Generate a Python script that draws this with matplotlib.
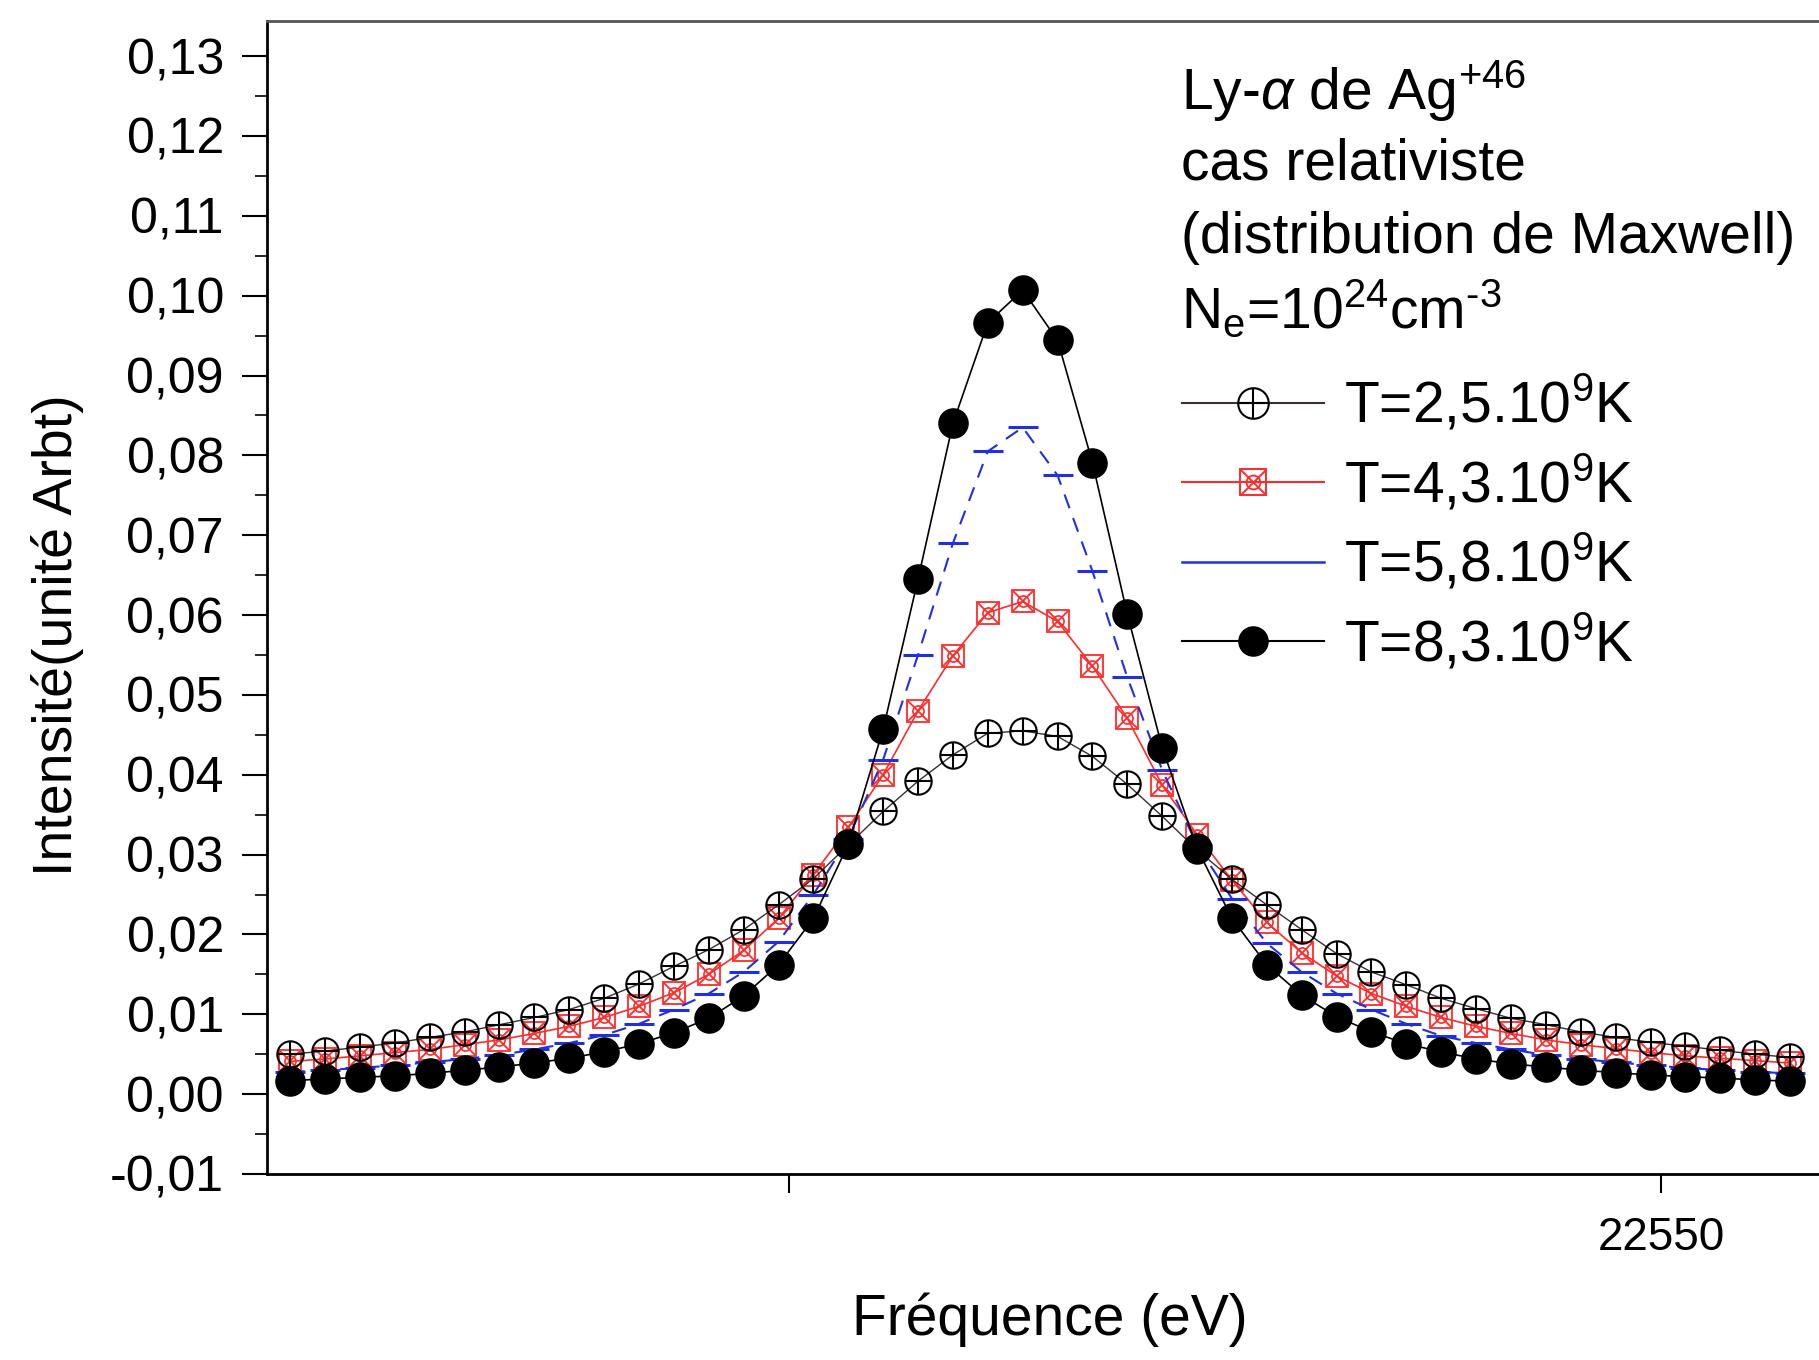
import numpy as np
import matplotlib
matplotlib.use('Agg')
import matplotlib.pyplot as plt
from matplotlib.lines import Line2D
from matplotlib.ticker import MultipleLocator, FuncFormatter, FixedLocator

plt.rcParams['font.family'] = ['Liberation Sans', 'DejaVu Sans']
plt.rcParams['mathtext.fontset'] = 'custom'
plt.rcParams['mathtext.rm'] = 'Liberation Sans'
plt.rcParams['mathtext.it'] = 'Liberation Sans:italic'
plt.rcParams['axes.unicode_minus'] = False

# frequence (eV), pas de 2 eV
freq = [22471.4, 22473.4, 22475.4, 22477.4, 22479.4, 22481.4, 22483.4, 22485.4,
        22487.4, 22489.4, 22491.4, 22493.4, 22495.4, 22497.4, 22499.4, 22501.4,
        22503.4, 22505.4, 22507.4, 22509.4, 22511.4, 22513.4, 22515.4, 22517.4,
        22519.4, 22521.4, 22523.4, 22525.4, 22527.4, 22529.4, 22531.4, 22533.4,
        22535.4, 22537.4, 22539.4, 22541.4, 22543.4, 22545.4, 22547.4, 22549.4,
        22551.4, 22553.4, 22555.4, 22557.4]

# T = 2,5e9 K
i25 = [0.0050, 0.0054, 0.0059, 0.0064, 0.0071, 0.0078, 0.0087, 0.0096, 0.0106, 0.0120,
       0.0138, 0.0160, 0.0181, 0.0206, 0.0237, 0.0270, 0.0312, 0.0354, 0.0392, 0.0425,
       0.0452, 0.0455, 0.0448, 0.0423, 0.0388, 0.0348, 0.0306, 0.0269, 0.0237, 0.0206,
       0.0176, 0.0153, 0.0137, 0.0120, 0.0107, 0.0095, 0.0087, 0.0078, 0.0071, 0.0065,
       0.0060, 0.0055, 0.0050, 0.0046]
# T = 4,3e9 K
i43 = [0.0041, 0.0044, 0.0048, 0.0052, 0.0056, 0.0062, 0.0068, 0.0076, 0.0085, 0.0096,
       0.0110, 0.0127, 0.0150, 0.0180, 0.0220, 0.0275, 0.0334, 0.0400, 0.0480, 0.0549,
       0.0603, 0.0617, 0.0592, 0.0536, 0.0471, 0.0387, 0.0325, 0.0268, 0.0215, 0.0177,
       0.0148, 0.0126, 0.0110, 0.0096, 0.0085, 0.0076, 0.0068, 0.0062, 0.0057, 0.0052,
       0.0048, 0.0045, 0.0042, 0.0039]
# T = 5,8e9 K
i58 = [0.0028, 0.0030, 0.0033, 0.0036, 0.0040, 0.0044, 0.0049, 0.0056, 0.0064, 0.0074,
       0.0088, 0.0106, 0.0126, 0.0153, 0.0191, 0.0250, 0.0320, 0.0419, 0.0550, 0.0690,
       0.0805, 0.0835, 0.0775, 0.0655, 0.0522, 0.0406, 0.0312, 0.0245, 0.0189, 0.0153,
       0.0126, 0.0106, 0.0088, 0.0073, 0.0064, 0.0056, 0.0049, 0.0044, 0.0040, 0.0036,
       0.0033, 0.0030, 0.0028, 0.0026]
# T = 8,3e9 K
i83 = [0.0017, 0.0019, 0.0021, 0.0023, 0.0026, 0.0030, 0.0034, 0.0039, 0.0045, 0.0053,
       0.0063, 0.0077, 0.0095, 0.0123, 0.0162, 0.0220, 0.0313, 0.0457, 0.0645, 0.0840,
       0.0966, 0.1007, 0.0944, 0.0791, 0.0601, 0.0434, 0.0308, 0.0220, 0.0162, 0.0124,
       0.0097, 0.0078, 0.0063, 0.0053, 0.0044, 0.0038, 0.0034, 0.0030, 0.0027, 0.0024,
       0.0022, 0.0020, 0.0018, 0.0016]

labels = [r'T=2,5.10$^{9}$K', r'T=4,3.10$^{9}$K', r'T=5,8.10$^{9}$K', r'T=8,3.10$^{9}$K']
xticks = [22500, 22550]
xticklabels = ['', '22550']

fig = plt.figure(figsize=(18.19, 13.60), dpi=100)
ax = fig.add_axes([267/1819, 1 - 1174/1360, 1 - 267/1819, (1174 - 21)/1360])

red = '#ff2a2a'
blue = '#2030e0'
grey = '#3a3030'

# rouge : carre barre + cercle
ax.plot(freq, i43, color=red, lw=1.2, marker='s', ms=16, mfc='none', mew=1.3, zorder=2)
ax.plot(freq, i43, ls='none', color=red, marker='x', ms=15, mew=1.3, zorder=2)
ax.plot(freq, i43, ls='none', color=red, marker='o', ms=8, mfc='none', mew=1.2, zorder=2)
# bleu : tirets
ax.plot(freq, i58, color=blue, lw=1.5, ls=(0, (7, 5)), marker='_', ms=22, mew=2.2, zorder=3)
# cercle + croix
ax.plot(freq, i25, color=grey, lw=1.0, marker='o', ms=19, mfc='none', mew=1.5, mec='k', zorder=4)
ax.plot(freq, i25, ls='none', marker='+', ms=19, mew=1.5, color='k', zorder=4)
# noir plein
ax.plot(freq, i83, color='k', lw=1.2, marker='o', ms=21, zorder=5)

ax.set_xlim(22470.07, 22559.06)
ax.set_ylim(-0.01, 0.1344)

ax.yaxis.set_major_locator(MultipleLocator(0.01))
ax.yaxis.set_minor_locator(MultipleLocator(0.005))
ax.yaxis.set_major_formatter(FuncFormatter(lambda v, p: '{:.2f}'.format(v).replace('.', ',')))
ax.xaxis.set_major_locator(FixedLocator(xticks))
ax.set_xticklabels(xticklabels)

ax.tick_params(axis='y', which='major', direction='out', length=18, width=1.5, labelsize=36, pad=13)
ax.tick_params(axis='y', which='minor', direction='out', length=9, width=1.2)
ax.tick_params(axis='x', which='major', direction='out', length=14, width=1.5, labelsize=33, pad=16)

ax.spines['right'].set_visible(False)
for s in ['left', 'bottom']:
    ax.spines[s].set_linewidth(2)
ax.spines['top'].set_linewidth(2)
ax.spines['top'].set_color('#555555')

fig.text(58/1819, 1 - 635/1360, 'Intensité(unité Arbt)', rotation=90, fontsize=40,
         ha='center', va='center')
fig.text(1050/1819, 1 - 1320/1360, 'Fréquence (eV)', fontsize=41, ha='center', va='center')

# bloc de texte en haut a droite
tx = 1181/1819
fig.text(tx, 1 - 110/1360, r'Ly-$\alpha$ de Ag$^{+46}$', fontsize=41, va='baseline')
fig.text(tx, 1 - 180/1360, 'cas relativiste', fontsize=41, va='baseline')
fig.text(tx, 1 - 253/1360, '(distribution de Maxwell)', fontsize=41, va='baseline')
fig.text(tx, 1 - 328/1360, r'N$_{\mathrm{e}}$=10$^{24}$cm$^{\text{-3}}$', fontsize=41, va='baseline')

h25 = (Line2D([], [], color=grey, lw=1.5),
       Line2D([], [], ls='none', marker='o', ms=22, mfc='none', mec='k', mew=1.5),
       Line2D([], [], ls='none', marker='+', ms=22, mew=1.5, color='k'))
h43 = (Line2D([], [], color=red, lw=1.5),
       Line2D([], [], ls='none', marker='s', ms=19, mfc='none', mec=red, mew=1.4),
       Line2D([], [], ls='none', color=red, marker='x', ms=18, mew=1.4),
       Line2D([], [], ls='none', color=red, marker='o', ms=10, mfc='none', mew=1.3))
h58 = Line2D([], [], color=blue, lw=1.8)
h83 = Line2D([], [], color='k', lw=1.5, marker='o', ms=21)

leg = fig.legend([h25, h43, h58, h83], labels, loc='upper left',
                 bbox_to_anchor=(1182/1819, 1 - 374/1360), frameon=False, fontsize=41,
                 handlelength=2.5, handletextpad=0.35, labelspacing=0.33, borderpad=0,
                 borderaxespad=0)

fig.savefig('out.png', dpi=100)
